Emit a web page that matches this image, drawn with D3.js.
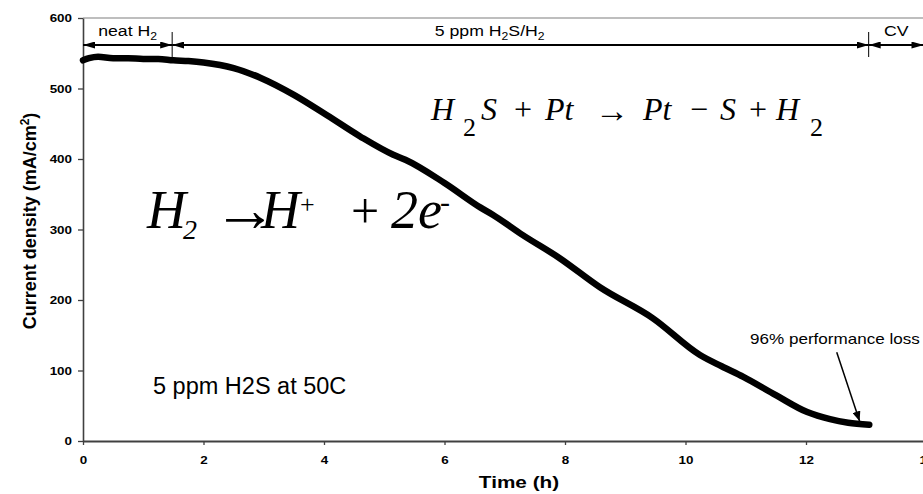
<!DOCTYPE html>
<html>
<head>
<meta charset="utf-8">
<script src="https://cdn.jsdelivr.net/npm/d3@7"></script>
<style>
body { margin: 0; background: #fff; }
svg { display: block; }
</style>
</head>
<body>
<script>
// current density vs time, 5 ppm H2S poisoning run
const hours = [0, 0.1, 0.25, 0.5, 0.75, 1.0, 1.25, 1.5, 1.75, 2.0, 2.5, 2.95, 3.5, 4.05, 4.6, 5.15, 5.35, 6.0, 6.6, 6.8, 7.3, 7.9, 8.58, 9.46, 10.24, 10.6, 10.96, 11.5, 12.02, 12.4, 12.7, 13.05]
const density = [540, 543, 545, 543, 543, 542, 542, 540, 539, 537, 529, 515, 491, 462, 432, 406, 399, 366, 331, 321, 292, 260, 218, 174, 122, 106, 91, 65, 41, 31, 26, 23]

const xTicks = [0, 2, 4, 6, 8, 10, 12, 14]
const yTicks = [0, 100, 200, 300, 400, 500, 600]

// test phases along the top of the plot
const phaseBounds = [0, 1.48, 13.04, 13.95]
const phaseLabelAt = [0.74, 6.75, 13.5]
const phaseLabels = [
    [["neat H", 0], ["2", 1]],
    [["5 ppm H", 0], ["2", 1], ["S/H", 0], ["2", 1]],
    [["CV", 0]]
]

// "96% performance loss" pointer, in data units
const lossArrow = [[12.51, 126], [12.89, 28]]

const width = 923
const height = 494
const stretch = 1.22

const svg = d3.select("body").append("svg")
    .attr("width", width)
    .attr("height", height)
    .attr("xmlns", "http://www.w3.org/2000/svg")

const x = d3.scaleLinear().domain([0, 14]).range([83, 926.5])
const y = d3.scaleLinear().domain([0, 600]).range([441, 18])

const defs = svg.append("defs")
defs.append("marker")
    .attr("id", "head")
    .attr("viewBox", "0 0 12 7")
    .attr("refX", 12).attr("refY", 3.5)
    .attr("markerWidth", 12).attr("markerHeight", 7)
    .attr("markerUnits", "userSpaceOnUse")
    .attr("orient", "auto-start-reverse")
    .append("path").attr("d", "M0,0L12,3.5L0,7Z").attr("fill", "#000")
defs.append("marker")
    .attr("id", "head2")
    .attr("viewBox", "0 0 10 8")
    .attr("refX", 10).attr("refY", 4)
    .attr("markerWidth", 10).attr("markerHeight", 8)
    .attr("markerUnits", "userSpaceOnUse")
    .attr("orient", "auto")
    .append("path").attr("d", "M0,0L10,4L0,8Z").attr("fill", "#000")

// plot area top border
svg.append("line")
    .attr("x1", x(0)).attr("x2", width)
    .attr("y1", y(600)).attr("y2", y(600))
    .attr("stroke", "#a8a8a8").attr("stroke-width", 1.5)

// axes
const yAxis = svg.append("g")
    .attr("transform", `translate(${x(0)},0)`)
    .call(d3.axisLeft(y).tickValues(yTicks).tickSize(5).tickSizeOuter(0).tickPadding(6))
yAxis.select(".domain").attr("stroke", "#404040").attr("stroke-width", 1.6)
yAxis.selectAll(".tick line").attr("stroke", "#404040").attr("stroke-width", 1.3)
yAxis.selectAll(".tick text")
    .attr("font-family", "'Liberation Sans', Arial, sans-serif")
    .attr("font-weight", "bold").attr("font-size", 11).attr("fill", "#000")
    .attr("x", -11 / stretch)
    .attr("transform", `scale(${stretch},1)`)

const xAxis = svg.append("g")
    .attr("transform", `translate(0,${y(0)})`)
    .call(d3.axisBottom(x).tickValues(xTicks).tickSize(4).tickSizeOuter(0).tickPadding(11))
xAxis.select(".domain").attr("stroke", "#404040").attr("stroke-width", 2.2)
xAxis.selectAll(".tick line").attr("stroke", "#404040").attr("stroke-width", 1.3)
xAxis.selectAll(".tick text")
    .attr("font-family", "'Liberation Sans', Arial, sans-serif")
    .attr("font-weight", "bold").attr("font-size", 11).attr("fill", "#000")
    .attr("transform", `scale(${stretch},1)`)

// data curve
const line = d3.line()
    .x(d => x(d[0]))
    .y(d => y(d[1]))
    .curve(d3.curveMonotoneX)

svg.append("path")
    .datum(d3.zip(hours, density))
    .attr("d", line)
    .attr("fill", "none")
    .attr("stroke", "#000")
    .attr("stroke-width", 6.5)
    .attr("stroke-linecap", "round")
    .attr("stroke-linejoin", "round")

// phase bracket
const bracketY = 45
const phases = svg.append("g")
phases.selectAll("line.seg")
    .data(d3.pairs(phaseBounds))
    .join("line")
    .attr("class", "seg")
    .attr("x1", d => x(d[0])).attr("x2", d => x(d[1]))
    .attr("y1", bracketY).attr("y2", bracketY)
    .attr("stroke", "#000").attr("stroke-width", 2)
    .attr("marker-start", "url(#head)")
    .attr("marker-end", "url(#head)")
phases.selectAll("line.sep")
    .data(phaseBounds.slice(1, -1))
    .join("line")
    .attr("class", "sep")
    .attr("x1", d => x(d)).attr("x2", d => x(d))
    .attr("y1", bracketY - 13).attr("y2", bracketY + 12)
    .attr("stroke", "#000").attr("stroke-width", 1)

phases.selectAll("g.lab")
    .data(phaseLabels)
    .join("g")
    .attr("class", "lab")
    .attr("transform", (d, i) => `translate(${x(phaseLabelAt[i])},36)`)
    .append("text")
    .attr("transform", `scale(${stretch},1)`)
    .attr("text-anchor", "middle")
    .attr("font-family", "'Liberation Sans', Arial, sans-serif")
    .attr("font-size", 14.5)
    .each(function(parts) {
        const t = d3.select(this)
        let low = 0
        parts.forEach(([s, sub]) => {
            const shift = sub ? 4 : 0
            t.append("tspan")
                .attr("dy", shift - low)
                .attr("font-size", sub ? 10 : 14.5)
                .text(s)
            low = shift
        })
    })

// axis titles
svg.append("g")
    .attr("transform", "translate(519,488)")
    .append("text")
    .attr("transform", `scale(${stretch},1)`)
    .attr("text-anchor", "middle")
    .attr("font-family", "'Liberation Sans', Arial, sans-serif")
    .attr("font-weight", "bold").attr("font-size", 17)
    .text("Time (h)")

const yTitle = svg.append("text")
    .attr("transform", "translate(36,221) rotate(-90)")
    .attr("text-anchor", "middle")
    .attr("font-family", "'Liberation Sans', Arial, sans-serif")
    .attr("font-weight", "bold").attr("font-size", 18)
yTitle.append("tspan").text("Current density (mA/cm")
yTitle.append("tspan").attr("dy", -7).attr("font-size", 12).text("2")
yTitle.append("tspan").attr("dy", 7).text(")")

// equations: [text, x, baseline, size, italic]
const serif = "'Liberation Serif', 'Times New Roman', serif"
const eq1 = [
    ["H", 431, 120, 32, true], ["2", 463, 136, 26, false], ["S", 481, 120, 32, true],
    ["+", 514, 120, 32, false], ["Pt", 545, 120, 32, true], ["\u2192", 595, 122, 34, false],
    ["Pt", 643, 120, 32, true], ["\u2212", 690, 120, 32, false], ["S", 720, 120, 32, true],
    ["+", 749, 120, 32, false], ["H", 776, 120, 32, true], ["2", 810, 136, 26, false]
]
const eq2 = [
    ["H", 147, 228, 54, true], ["2", 183, 239, 28, true], ["\u2192", 213, 231, 64, false],
    ["H", 261, 228, 54, true], ["+", 300, 213, 26, false], ["+", 351, 228, 50, false],
    ["2e", 391, 228, 54, true], ["-", 440, 212, 30, false]
]
svg.append("g").selectAll("text")
    .data(eq1.concat(eq2))
    .join("text")
    .attr("x", d => d[1]).attr("y", d => d[2])
    .attr("font-size", d => d[3])
    .attr("font-style", d => d[4] ? "italic" : "normal")
    .attr("font-family", serif)
    .text(d => d[0])

// notes
svg.append("text")
    .attr("x", 153).attr("y", 394)
    .attr("font-family", "'Liberation Sans', Arial, sans-serif")
    .attr("font-size", 23.5)
    .text("5 ppm H2S at 50C")

svg.append("g")
    .attr("transform", "translate(750,344)")
    .append("text")
    .attr("transform", `scale(${stretch},1)`)
    .attr("font-family", "'Liberation Sans', Arial, sans-serif")
    .attr("font-size", 14)
    .text("96% performance loss")

svg.append("line")
    .attr("x1", x(lossArrow[0][0])).attr("y1", y(lossArrow[0][1]))
    .attr("x2", x(lossArrow[1][0])).attr("y2", y(lossArrow[1][1]))
    .attr("stroke", "#000").attr("stroke-width", 1.5)
    .attr("marker-end", "url(#head2)")
</script>
</body>
</html>
